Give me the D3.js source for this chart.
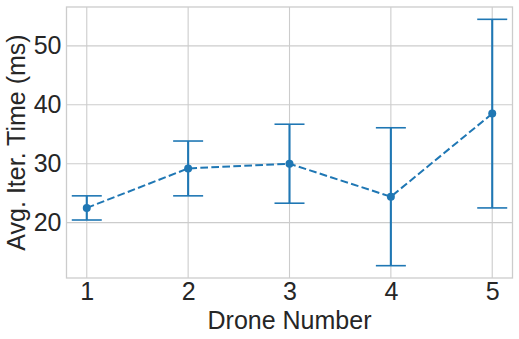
<!DOCTYPE html>
<html>
<head>
<meta charset="utf-8">
<script src="https://cdn.jsdelivr.net/npm/d3@7"></script>
<style>
  html, body { margin: 0; padding: 0; background: #ffffff; }
  svg { display: block; }
  text { font-family: "Liberation Sans", Arial, sans-serif; fill: #262626; }
</style>
</head>
<body>
<div id="chart"></div>
<script>
// ---- data ----
const drones = [1, 2, 3, 4, 5];
const meanTimes = [22.5, 29.2, 30.0, 24.4, 38.5];
const errTimes = [2.05, 4.65, 6.7, 11.7, 16.0];
const yTicks = [20, 30, 40, 50];
const xTicks = [1, 2, 3, 4, 5];
const xLabel = "Drone Number";
const yLabel = "Avg. Iter. Time (ms)";

// ---- layout ----
const W = 519, H = 339;
const plot = { left: 66.5, right: 512.5, top: 7, bottom: 278 };
const color = "#1f77b4";
const fs = 25;

const svg = d3.select("#chart").append("svg")
  .attr("width", W).attr("height", H);

// y domain like matplotlib auto margins (5%)
const lo = d3.min(meanTimes.map((m, i) => m - errTimes[i]));
const hi = d3.max(meanTimes.map((m, i) => m + errTimes[i]));
const pad = (hi - lo) * 0.05;

const x = d3.scaleLinear().domain([0.8, 5.2]).range([plot.left, plot.right]);
const y = d3.scaleLinear().domain([lo - pad, hi + pad]).range([plot.bottom, plot.top]);

// grid
const grid = svg.append("g");
grid.selectAll(".gx").data(xTicks).enter().append("line")
  .attr("x1", d => x(d)).attr("x2", d => x(d))
  .attr("y1", plot.top).attr("y2", plot.bottom)
  .attr("stroke", "#cccccc").attr("stroke-width", 1.1);
grid.selectAll(".gy").data(yTicks).enter().append("line")
  .attr("x1", plot.left).attr("x2", plot.right)
  .attr("y1", d => y(d)).attr("y2", d => y(d))
  .attr("stroke", "#cccccc").attr("stroke-width", 1.1);

// spines
svg.append("rect")
  .attr("x", plot.left).attr("y", plot.top)
  .attr("width", plot.right - plot.left).attr("height", plot.bottom - plot.top)
  .attr("fill", "none").attr("stroke", "#cccccc").attr("stroke-width", 1.3);

// axes (tick labels via d3 axes, no tick lines / domain)
const xAxis = d3.axisBottom(x).tickValues(xTicks).tickFormat(d3.format("d")).tickSize(0).tickPadding(4);
const gx = svg.append("g").attr("transform", `translate(0,${plot.bottom})`).call(xAxis);
gx.select(".domain").remove();
gx.selectAll("text").attr("font-size", fs).attr("font-family", "Liberation Sans, Arial, sans-serif").attr("fill", "#262626");

const yAxis = d3.axisLeft(y).tickValues(yTicks).tickFormat(d3.format("d")).tickSize(0).tickPadding(5);
const gy = svg.append("g").attr("transform", `translate(${plot.left},0)`).call(yAxis);
gy.select(".domain").remove();
gy.selectAll("text").attr("font-size", fs).attr("font-family", "Liberation Sans, Arial, sans-serif").attr("fill", "#262626");

// axis labels
svg.append("text")
  .attr("x", (plot.left + plot.right) / 2).attr("y", 329)
  .attr("text-anchor", "middle").attr("font-size", fs)
  .text(xLabel);
svg.append("text")
  .attr("transform", `translate(25,${(plot.top + plot.bottom) / 2}) rotate(-90)`)
  .attr("text-anchor", "middle").attr("font-size", fs)
  .text(yLabel);

// data
const pts = drones.map((d, i) => ({ d, m: meanTimes[i], e: errTimes[i] }));

// dashed line
svg.append("path")
  .datum(pts)
  .attr("d", d3.line().x(p => x(p.d)).y(p => y(p.m)))
  .attr("fill", "none").attr("stroke", color).attr("stroke-width", 2)
  .attr("stroke-dasharray", "7.7,3.3");

// error bars
const eb = svg.append("g");
eb.selectAll(".ev").data(pts).enter().append("line")
  .attr("x1", p => x(p.d)).attr("x2", p => x(p.d))
  .attr("y1", p => y(p.m - p.e)).attr("y2", p => y(p.m + p.e))
  .attr("stroke", color).attr("stroke-width", 2.1);
const capHalf = 15;
eb.selectAll(".ct").data(pts).enter().append("line")
  .attr("x1", p => x(p.d) - capHalf).attr("x2", p => x(p.d) + capHalf)
  .attr("y1", p => y(p.m + p.e)).attr("y2", p => y(p.m + p.e))
  .attr("stroke", color).attr("stroke-width", 1.6);
eb.selectAll(".cb").data(pts).enter().append("line")
  .attr("x1", p => x(p.d) - capHalf).attr("x2", p => x(p.d) + capHalf)
  .attr("y1", p => y(p.m - p.e)).attr("y2", p => y(p.m - p.e))
  .attr("stroke", color).attr("stroke-width", 1.6);

// markers
svg.selectAll(".pt").data(pts).enter().append("circle")
  .attr("cx", p => x(p.d)).attr("cy", p => y(p.m)).attr("r", 4)
  .attr("fill", color);
</script>
</body>
</html>
